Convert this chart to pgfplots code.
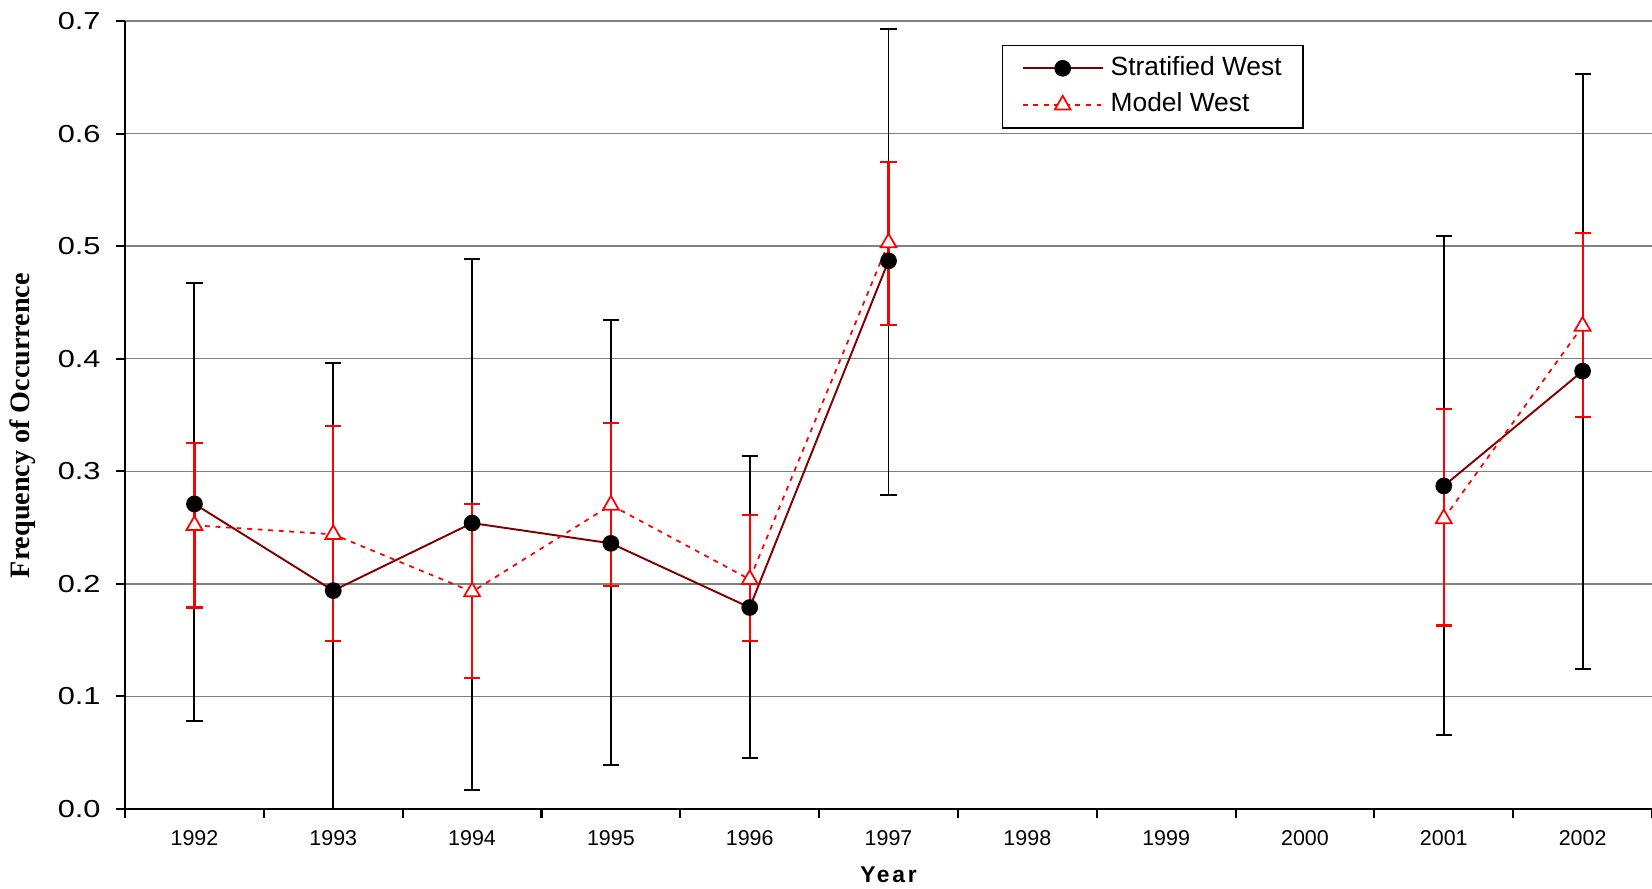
\documentclass[border=0pt]{standalone}
\usepackage{pgfplots}
\pgfplotsset{compat=1.18}
\usepackage{pgfplotstable}
\usepackage{fontspec}
\setmainfont{Liberation Sans}
\newfontfamily\labelserif{Liberation Serif}
\definecolor{stratline}{RGB}{128,0,0}

% year index: 0 = 1992 ... 10 = 2002; nan = no survey
\pgfplotstableread{
x  y     lo     hi
0  0.271 0.078  0.467
1  0.194 0.000  0.396
2  0.254 0.017  0.489
3  0.236 0.039  0.434
4  0.179 0.045  0.314
5  0.487 0.279  0.693
6  nan   nan    nan
7  nan   nan    nan
8  nan   nan    nan
9  0.287 0.066  0.509
10 0.389 0.124  0.653
}\strat

\pgfplotstableread{
x  y     lo     hi
0  0.252 0.179  0.325
1  0.244 0.149  0.340
2  0.193 0.116  0.271
3  0.270 0.198  0.343
4  0.204 0.149  0.261
5  0.503 0.430  0.575
6  nan   nan    nan
7  nan   nan    nan
8  nan   nan    nan
9  0.258 0.163  0.355
10 0.429 0.348  0.512
}\model

\begin{document}
\begin{tikzpicture}
\begin{axis}[
    scale only axis,
    width=15.27cm, height=7.88cm,
    xmin=-0.5, xmax=10.5,
    ymin=0, ymax=0.7,
    axis x line*=bottom,
    axis y line*=left,
    axis line style={line width=0.6pt},
    tick align=outside,
    major tick length=0.09cm,
    tick style={black, line width=0.6pt},
    xtick={-0.5,0.5,...,10.5},
    xticklabels={1992,1993,1994,1995,1996,1997,1998,1999,2000,2001,2002},
    x tick label as interval,
    ytick={0,0.1,0.2,0.3,0.4,0.5,0.6,0.7},
    /pgf/number format/assume math mode=true,
    yticklabel style={/pgf/number format/.cd, fixed, fixed zerofill, precision=1,
        /tikz/.cd, font=\fontsize{7}{8}\selectfont, xscale=1.25},
    xticklabel style={font=\fontsize{6.1}{7}\selectfont},
    ymajorgrids,
    grid style={gray, line width=0.4pt},
    every axis y label/.style={at={(axis description cs:-0.0668,0.4865)}, rotate=90, anchor=center},
    ylabel={\labelserif\bfseries\fontsize{8}{9}\selectfont Frequency of Occurrence},
    every axis x label/.style={at={(axis description cs:0.5,-0.0831)}, anchor=center},
    xlabel={\bfseries\fontsize{6.5}{7.5}\selectfont\addfontfeatures{LetterSpace=12}Year},
    legend style={at={(axis description cs:0.574,0.97)}, anchor=north west,
        draw=black, line width=0.5pt, font=\fontsize{7.5}{8.5}\selectfont,
        inner xsep=5.5pt, inner ysep=1pt, row sep=-0.5pt, column sep=1.5pt,
        nodes={inner xsep=0.5pt}},
    legend cell align=left,
    legend image code/.code={
        \draw[mark repeat=2, mark phase=2, #1]
        plot coordinates {(0cm,0cm) (0.4cm,0cm) (0.8cm,0cm)};},
]
% error bars first, so lines and markers sit on top
\addplot[draw=none, mark=none, forget plot,
    error bars/.cd, y dir=both, y explicit,
    error bar style={black, line width=0.55pt},
    error mark options={rotate=90, black, mark size=2.3pt, line width=0.55pt}]
    table[x=x, y=y, y error plus expr=\thisrow{hi}-\thisrow{y},
          y error minus expr=\thisrow{y}-\thisrow{lo}] {\strat};
\addplot[draw=none, mark=none, forget plot,
    error bars/.cd, y dir=both, y explicit,
    error bar style={red, line width=0.6pt},
    error mark options={rotate=90, red, mark size=2.3pt, line width=0.6pt}]
    table[x=x, y=y, y error plus expr=\thisrow{hi}-\thisrow{y},
          y error minus expr=\thisrow{y}-\thisrow{lo}] {\model};

\addplot[stratline, line width=0.55pt, unbounded coords=jump,
    mark=*, mark size=2.1pt, mark options={solid, fill=black, draw=black}]
    table[x=x, y=y] {\strat};
\addlegendentry{Stratified West}
\addplot[red, line width=0.5pt, dash pattern=on 1.4pt off 1.6pt, unbounded coords=jump,
    mark=triangle*, mark size=2.6pt, mark options={solid, fill=white, draw=red, line width=0.5pt}]
    table[x=x, y=y] {\model};
\addlegendentry{Model West}

\coordinate (bbA) at (axis description cs:-0.0819,-0.1015);
\coordinate (bbB) at (axis description cs:1,1.0267);
\end{axis}
\pgfresetboundingbox
\path (bbA) rectangle (bbB);
\end{tikzpicture}
\end{document}
